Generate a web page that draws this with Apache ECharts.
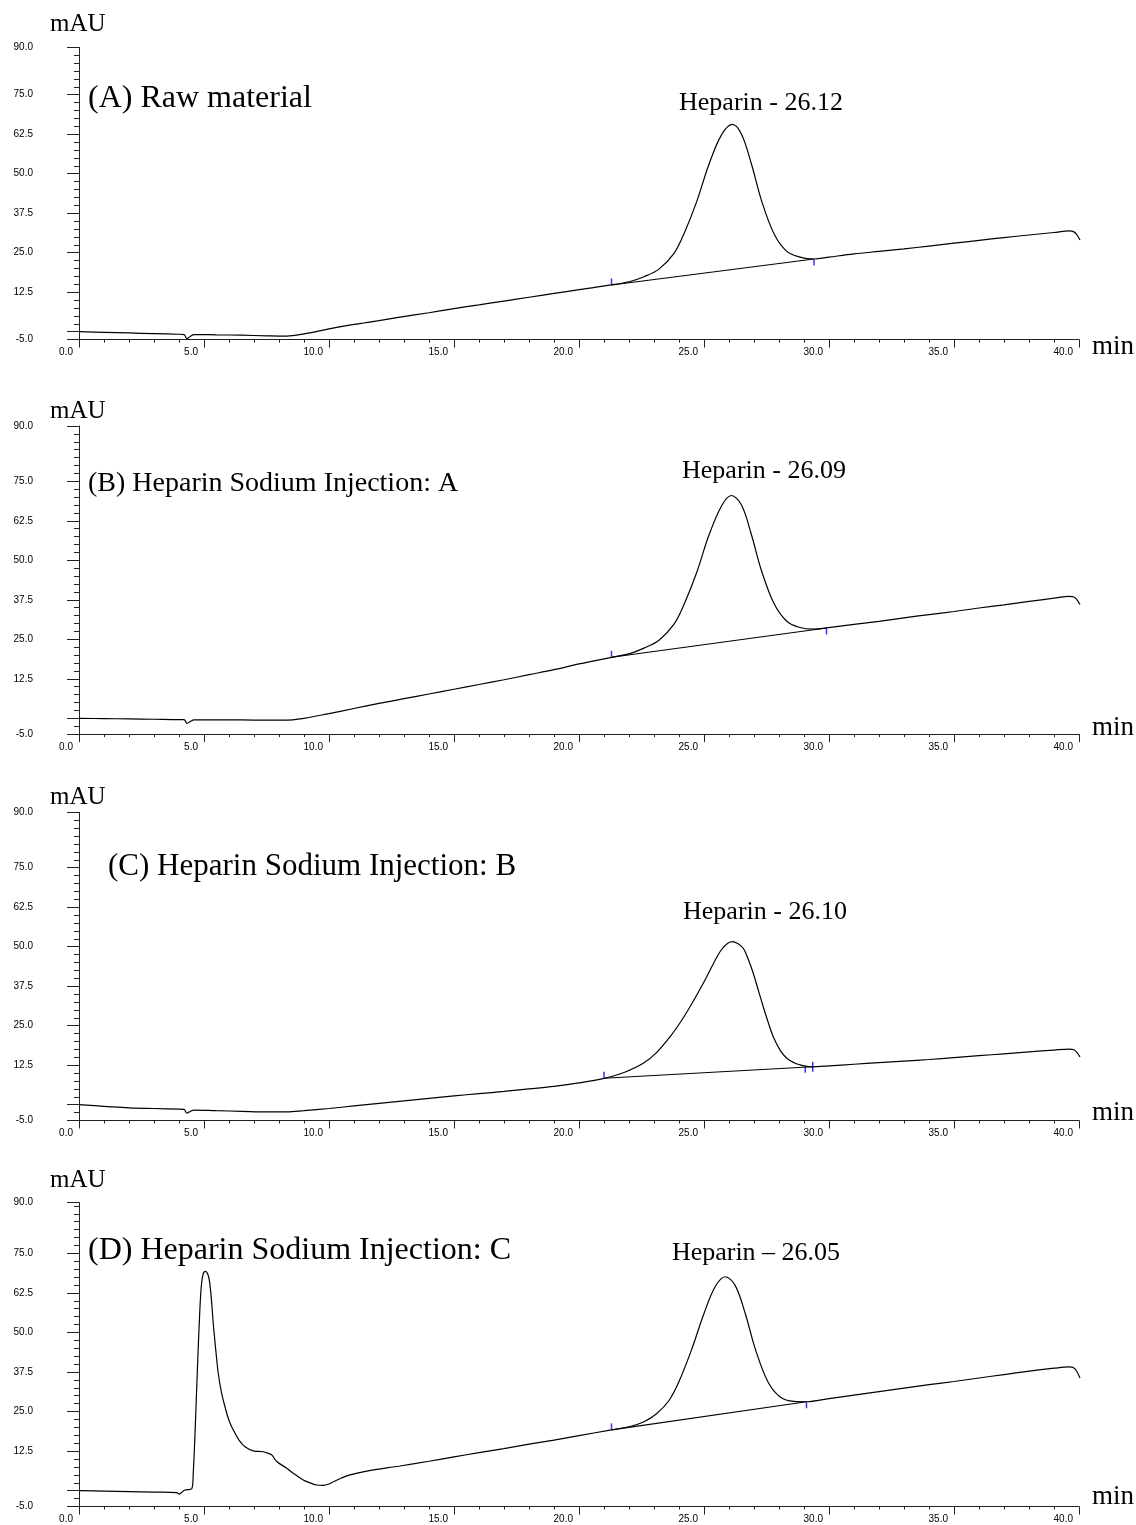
<!DOCTYPE html>
<html lang="en">
<head>
<meta charset="UTF-8">
<title>Heparin chromatograms</title>
<script src="https://cdn.jsdelivr.net/npm/echarts@6/dist/echarts.min.js"></script>
<style>
  * { margin: 0; padding: 0; box-sizing: border-box; }
  body { background: #fff; }
  #chart { width: 1136px; height: 1525px; }
</style>
</head>
<body>
<div id="chart"></div>
<script>
// ---- data (time in min, signal in mAU) ----
const yTickLabels = ['-5.0', '12.5', '25.0', '37.5', '50.0', '62.5', '75.0', '90.0'];

const traceA = [
  [0, 0], [1, -0.2], [2, -0.4], [3, -0.6], [4, -0.8], [4.2, -0.9], [4.32, -2.2], [4.45, -1.5], [4.6, -0.9],
  [5.5, -1.0], [6.5, -1.1], [7.5, -1.3], [8.3, -1.4], [9, -0.7], [10, 0.9], [11, 2.3], [12, 3.5], [12.84, 4.6],
  [14, 6.0], [15, 7.3], [16, 8.5], [17, 9.7], [18, 10.9], [19, 12.1], [20, 13.3], [21.3, 14.8], [22.0, 15.8],
  [22.6, 17.4], [23.2, 19.8], [23.8, 24.8], [24.2, 31.0], [24.7, 41.0], [25.2, 53.0], [25.7, 62.3], [26.13, 65.6],
  [26.5, 62.5], [26.9, 53.0], [27.3, 41.5], [27.8, 31.0], [28.3, 25.5], [28.8, 23.7], [29.4, 23.0], [30, 23.6],
  [31, 24.6], [32, 25.4], [33, 26.2], [34, 27.1], [35, 28.0], [36, 28.9], [37, 29.8], [38, 30.6], [39, 31.4],
  [39.6, 31.9], [39.8, 31.6], [39.92, 30.6], [40.04, 29.0]
];
const baselineA = [[21.3, 14.8], [29.4, 23.0]];
const markersA = [[21.3, 14.8, -1], [29.4, 23.0, 1]];
const yTickPosA = [-2.5, 12.5, 25, 37.5, 50, 62.5, 75, 90];

const traceB = [
  [0, 0], [1, -0.1], [2, -0.2], [3, -0.3], [4, -0.4], [4.2, -0.4], [4.32, -1.6], [4.45, -1.0], [4.6, -0.5],
  [5.5, -0.5], [6.5, -0.5], [7.5, -0.6], [8.2, -0.6], [9, 0.0], [10, 1.5], [11, 3.1], [12, 4.7], [13, 6.2],
  [14, 7.7], [15, 9.2], [16, 10.7], [17, 12.2], [18, 13.8], [19, 15.4], [20, 17.2], [21.3, 19.3], [22.0, 20.4],
  [22.6, 22.2], [23.2, 24.7], [23.8, 29.8], [24.2, 36.0], [24.7, 46.0], [25.2, 58.0], [25.7, 67.2], [26.09, 70.5],
  [26.5, 67.5], [26.9, 58.0], [27.3, 46.7], [27.8, 36.3], [28.3, 30.8], [28.8, 28.8], [29.4, 28.2], [29.9, 28.6],
  [31, 29.7], [32, 30.7], [33, 31.8], [34, 32.8], [35, 33.8], [36, 34.9], [37, 35.9], [38, 37.0], [39, 38.0],
  [39.6, 38.6], [39.8, 38.4], [39.92, 37.5], [40.04, 36.0]
];
const baselineB = [[21.3, 19.3], [29.9, 28.6]];
const markersB = [[21.3, 19.3, -1], [29.9, 28.6, 1]];
const yTickPosB = [-5, 12.5, 25, 37.5, 50, 62.5, 75, 92.5];

const traceC = [
  [0, 0], [1, -0.5], [2, -1.0], [3, -1.2], [4, -1.4], [4.2, -1.5], [4.32, -2.7], [4.45, -2.1], [4.6, -1.7],
  [5.5, -1.9], [6.5, -2.1], [7.5, -2.3], [8.3, -2.3], [9, -1.9], [10, -1.2], [11, -0.4], [12, 0.4], [13, 1.2],
  [14, 2.0], [15, 2.8], [16, 3.5], [17, 4.2], [18, 5.0], [19, 5.8], [20, 6.9], [21.0, 8.35], [21.8, 10.2],
  [22.57, 13.1], [23.1, 16.5], [23.64, 21.5], [24.05, 26.0], [24.44, 31.0], [24.8, 36.0], [25.11, 40.5],
  [25.4, 45.0], [25.64, 48.4], [25.9, 50.8], [26.13, 51.6], [26.35, 51.0], [26.57, 49.5], [26.77, 46.0],
  [26.97, 41.6], [27.17, 36.3], [27.37, 31.0], [27.57, 26.0], [27.77, 21.5], [28.05, 17.2], [28.31, 14.7],
  [28.6, 13.3], [28.84, 12.6], [29.05, 12.2], [29.33, 12.0], [30, 12.3], [31, 12.8], [32, 13.3], [33, 13.8],
  [34, 14.3], [35, 14.9], [36, 15.5], [37, 16.1], [38, 16.7], [39, 17.3], [39.6, 17.6], [39.8, 17.4],
  [39.92, 16.5], [40.04, 15.1]
];
const baselineC = [[21.0, 8.35], [29.33, 12.0]];
const markersC = [[21.0, 8.35, -1], [29.05, 12.2, 1], [29.35, 12.0, 0]];
const yTickPosC = [-5, 12.5, 25, 37.5, 50, 62.5, 75, 92.5];

const traceD = [
  [0, 0], [1, -0.15], [2, -0.3], [3, -0.45], [3.91, -0.6], [4.01, -1.1], [4.1, -0.6], [4.24, 0.2], [4.51, 0.6],
  [4.57, 5.5], [4.65, 20], [4.73, 37.1], [4.8, 51], [4.88, 63.5], [4.96, 68.3], [5.05, 69.3], [5.13, 68.8],
  [5.21, 66.7], [5.29, 61], [5.37, 52.9], [5.47, 44.5], [5.57, 37.1], [5.7, 31.0], [5.84, 26.5], [6.0, 22.2],
  [6.17, 19.2], [6.4, 16.0], [6.64, 13.9], [6.97, 12.6], [7.37, 12.3], [7.6, 11.7], [7.71, 11.3], [7.91, 9.2],
  [8.31, 7.1], [8.57, 5.5], [8.97, 3.4], [9.3, 2.3], [9.51, 1.8], [9.77, 1.7], [10.0, 2.1], [10.17, 2.8],
  [10.5, 4.0], [10.84, 5.0], [11.51, 6.2], [12.84, 7.8], [14, 9.3], [15, 10.7], [16, 12.0], [17, 13.3],
  [18, 14.7], [19, 16.0], [20, 17.4], [21.3, 19.2], [22.0, 20.2], [22.6, 21.8], [23.1, 24.3], [23.6, 28.5],
  [24.0, 34.5], [24.5, 44.5], [25.0, 56.0], [25.45, 64.5], [25.85, 67.6], [26.25, 64.8], [26.65, 56.0],
  [27.05, 44.8], [27.55, 34.5], [28.05, 29.6], [28.6, 28.2], [29.1, 28.1], [30, 29.1], [31, 30.2], [32, 31.3],
  [33, 32.4], [34, 33.5], [35, 34.5], [36, 35.6], [37, 36.7], [38, 37.8], [39, 38.7], [39.6, 39.1],
  [39.8, 38.8], [39.92, 37.6], [40.04, 35.6]
];
const baselineD = [[21.3, 19.2], [29.1, 28.1]];
const markersD = [[21.3, 19.2, -1], [29.1, 28.1, 1]];
const yTickPosD = [-5, 12.5, 25, 37.5, 50, 62.5, 75, 91];

const panelTitles = [
  '(A) Raw material',
  '(B) Heparin Sodium Injection: A',
  '(C) Heparin Sodium Injection: B',
  '(D) Heparin Sodium Injection: C'
];
const peakLabels = ['Heparin - 26.12', 'Heparin - 26.09', 'Heparin - 26.10', 'Heparin \u2013 26.05'];

// ---- layout (pixels) ----
const panels = [
  { trace: traceA, baseline: baselineA, markers: markersA, ticks: yTickPosA, top: 47.3, height: 292.3,
    mau: 25, title: [88, 99, 32], peak: [761, 103], min: 347 },
  { trace: traceB, baseline: baselineB, markers: markersB, ticks: yTickPosB, top: 426, height: 308.1,
    mau: 412, title: [88, 484, 28], peak: [764, 471], min: 728 },
  { trace: traceC, baseline: baselineC, markers: markersC, ticks: yTickPosC, top: 812.4, height: 308.1,
    mau: 798, title: [108, 867, 31], peak: [765, 912], min: 1113 },
  { trace: traceD, baseline: baselineD, markers: markersD, ticks: yTickPosD, top: 1202.7, height: 303.8,
    mau: 1181, title: [88, 1251, 32], peak: [756, 1253], min: 1497 }
];

const SERIF = '"Liberation Serif", "Times New Roman", serif';
const SANS = '"Liberation Sans", Arial, sans-serif';
const AXIS = '#222';

const grid = [], xAxis = [], yAxis = [], series = [], graphic = [];

panels.forEach((p, i) => {
  const yMin = p.ticks[0];
  const yMax = p.ticks[p.ticks.length - 1];

  // minor ticks every 2.5 mAU
  const minor = [];
  for (let v = Math.ceil(yMin / 2.5) * 2.5; v <= yMax + 1e-6; v += 2.5) minor.push(v);
  const major = p.ticks.concat([0]);

  grid.push({ left: 79, width: 1000, top: p.top, height: p.height, outerBoundsMode: 'none', containLabel: false });

  xAxis.push({
    gridIndex: i, type: 'value', min: 0, max: 40, interval: 5, position: 'bottom',
    axisLine: { onZero: false, lineStyle: { color: AXIS, width: 1 } },
    axisTick: { length: 8, lineStyle: { color: AXIS } },
    minorTick: { show: true, splitNumber: 5, length: 3, lineStyle: { color: AXIS } },
    axisLabel: {
      color: '#000', fontSize: 10, fontFamily: SANS, margin: 8,
      align: 'right', padding: [0, 6, 0, 0],
      formatter: v => v.toFixed(1)
    },
    splitLine: { show: false }
  });

  // axis carrying the short minor ticks
  yAxis.push({
    gridIndex: i, type: 'value', min: yMin, max: yMax, position: 'left',
    axisLine: { show: true, onZero: false, lineStyle: { color: AXIS, width: 1 } },
    axisTick: { show: true, customValues: minor, length: 5, lineStyle: { color: AXIS } },
    axisLabel: { show: false },
    splitLine: { show: false }
  });
  // overlay axis with the long ticks and labels
  yAxis.push({
    gridIndex: i, type: 'value', min: yMin, max: yMax, position: 'left', offset: 0,
    axisLine: { show: false, onZero: false },
    axisTick: { show: true, customValues: major, length: 12, lineStyle: { color: AXIS } },
    axisLabel: {
      customValues: p.ticks, margin: 46, color: '#000', fontSize: 10, fontFamily: SANS,
      formatter: v => yTickLabels[p.ticks.indexOf(v)]
    },
    splitLine: { show: false }
  });

  series.push({
    type: 'line', xAxisIndex: i, yAxisIndex: i * 2, data: p.trace,
    symbol: 'none', smooth: 0.35,
    lineStyle: { color: '#000', width: 1.2 }, silent: true
  });
  series.push({
    type: 'line', xAxisIndex: i, yAxisIndex: i * 2, data: p.baseline,
    symbol: 'none', lineStyle: { color: '#000', width: 1.1 }, silent: true
  });
  series.push({
    type: 'scatter', xAxisIndex: i, yAxisIndex: i * 2, silent: true,
    symbol: 'rect',
    itemStyle: { color: '#0000ff' },
    data: p.markers.map(m => ({
      value: [m[0], m[1]],
      symbolSize: m[2] === 0 ? [1.5, 10] : [1.5, 6],
      symbolOffset: [0, m[2] * 3.5]
    }))
  });

  graphic.push(
    { type: 'text', left: 50, top: p.mau - 13, style: { text: 'mAU', font: '25px ' + SERIF, fill: '#000' } },
    { type: 'text', x: p.title[0], y: p.title[1],
      style: { text: panelTitles[i], font: p.title[2] + 'px ' + SERIF, fill: '#000', textAlign: 'left', textVerticalAlign: 'middle' } },
    { type: 'text', x: p.peak[0], y: p.peak[1],
      style: { text: peakLabels[i], font: '26px ' + SERIF, fill: '#000', textAlign: 'center', textVerticalAlign: 'middle' } },
    { type: 'text', x: 1092, y: p.min,
      style: { text: 'min', font: '27px ' + SERIF, fill: '#000', textAlign: 'left', textVerticalAlign: 'middle' } }
  );
});

const chart = echarts.init(document.getElementById('chart'), null, { renderer: 'canvas' });
chart.setOption({
  animation: false,
  backgroundColor: '#fff',
  grid, xAxis, yAxis, series, graphic
});
</script>
</body>
</html>
